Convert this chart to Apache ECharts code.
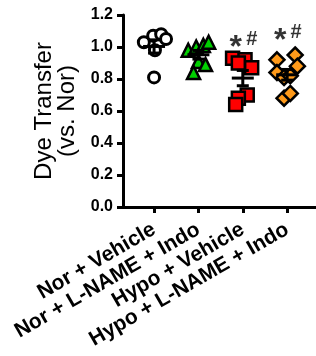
<!DOCTYPE html>
<html>
<head>
<meta charset="utf-8">
<script src="https://cdn.jsdelivr.net/npm/echarts@6/dist/echarts.min.js"></script>
<style>
  html, body { margin: 0; padding: 0; background: #fff; }
  #chart { width: 316px; height: 356px; }
</style>
</head>
<body>
<div id="chart"></div>
<script>
const categories = ['Nor + Vehicle', 'Nor + L-NAME + Indo', 'Hypo + Vehicle', 'Hypo + L-NAME + Indo']

// individual dye transfer values per group
const norVehicle = [1.03, 1.07, 1.08, 1.05, 0.98, 0.81]
const norLname = [0.98, 1.00, 1.01, 1.03, 0.91, 0.84, 0.89]
const hypoVehicle = [0.93, 0.92, 0.90, 0.87, 0.70, 0.68, 0.64]
const hypoLname = [0.92, 0.95, 0.88, 0.84, 0.81, 0.82, 0.68, 0.71]

// horizontal scatter of the points inside each group (category units)
const jitterNor = [-0.23, -0.02, 0.16, 0.27, 0.02, 0.0]
const jitterNorL = [-0.23, -0.05, 0.11, 0.23, 0.0, -0.11, 0.16]
const jitterHypo = [-0.23, 0.05, -0.1, 0.2, 0.1, -0.1, -0.16]
const jitterHypoL = [-0.23, 0.18, 0.23, -0.23, -0.07, 0.07, -0.07, 0.07]

// significance marks above the groups
const annotationGroups = [3, 4]
const annotationY = [1.05, 1.09]

const groups = [norVehicle, norLname, hypoVehicle, hypoLname]
const jitters = [jitterNor, jitterNorL, jitterHypo, jitterHypoL]

function mean(arr) {
  return arr.reduce((a, b) => a + b, 0) / arr.length
}

function sem(arr) {
  const m = mean(arr)
  const v = arr.reduce((a, b) => a + (b - m) * (b - m), 0) / (arr.length - 1)
  return Math.sqrt(v / arr.length)
}

const markers = [
  { symbol: 'circle', size: 11, color: '#ffffff' },
  { symbol: 'triangle', size: 13, color: '#00d000' },
  { symbol: 'rect', size: 13, color: '#ff0000' },
  { symbol: 'diamond', size: 15, color: '#ff9a1a' }
]

const pointSeries = groups.map((values, g) => ({
  type: 'scatter',
  symbol: markers[g].symbol,
  symbolSize: markers[g].size,
  itemStyle: {
    color: markers[g].color,
    borderColor: '#000',
    borderWidth: g === 0 ? 3 : 2.5,
    opacity: 1
  },
  z: 2,
  data: values.map((v, i) => [g + 1 + jitters[g][i], v])
}))

const statData = groups.map((values, g) => [g + 1, mean(values), sem(values)])
const annotationData = annotationGroups.map((g, i) => [g, annotationY[i]])

const font = 'Liberation Sans, Arial'

const chart = echarts.init(document.getElementById('chart'))
chart.setOption({
  animation: false,
  grid: { left: 123, right: 0, top: 15, bottom: 149 },
  xAxis: {
    type: 'value',
    min: 0.3,
    max: 4.65,
    splitLine: { show: false },
    axisLine: { lineStyle: { color: '#000', width: 3 } },
    axisTick: {
      show: true,
      length: 6,
      customValues: [1, 2, 3, 4],
      lineStyle: { color: '#000', width: 3 }
    },
    axisLabel: {
      customValues: [1, 2, 3, 4],
      rotate: 30,
      margin: 21,
      formatter: v => categories[Math.round(v) - 1],
      color: '#000',
      fontFamily: font,
      fontWeight: 'bold',
      fontSize: 21
    }
  },
  yAxis: {
    type: 'value',
    min: 0,
    max: 1.2,
    interval: 0.2,
    name: 'Dye Transfer\n(vs. Nor)',
    nameLocation: 'middle',
    nameGap: 42,
    nameTextStyle: {
      color: '#000',
      fontFamily: font,
      fontSize: 24,
      lineHeight: 23
    },
    splitLine: { show: false },
    axisLine: { show: true, lineStyle: { color: '#000', width: 3 } },
    axisTick: { show: true, length: 6, lineStyle: { color: '#000', width: 3 } },
    axisLabel: {
      margin: 10,
      formatter: v => v.toFixed(1),
      color: '#000',
      fontFamily: font,
      fontWeight: 'bold',
      fontSize: 16
    }
  },
  series: [
    ...pointSeries,
    {
      type: 'custom',
      z: 3,
      data: statData,
      renderItem: (params, api) => {
        const x = api.value(0)
        const m = api.value(1)
        const s = api.value(2)
        const c = api.coord([x, m])
        const top = api.coord([x, m + s])
        const bot = api.coord([x, m - s])
        const style = { stroke: '#000', lineWidth: 3 }
        return {
          type: 'group',
          children: [
            { type: 'line', shape: { x1: c[0] - 11, y1: c[1], x2: c[0] + 11, y2: c[1] }, style },
            { type: 'line', shape: { x1: c[0], y1: top[1], x2: c[0], y2: bot[1] }, style },
            { type: 'line', shape: { x1: c[0] - 6, y1: top[1], x2: c[0] + 6, y2: top[1] }, style },
            { type: 'line', shape: { x1: c[0] - 6, y1: bot[1], x2: c[0] + 6, y2: bot[1] }, style }
          ]
        }
      }
    },
    {
      type: 'scatter',
      symbolSize: 0,
      silent: true,
      data: annotationData,
      label: {
        show: true,
        position: 'inside',
        offset: [-7, 9],
        formatter: '*',
        fontFamily: font,
        fontWeight: 'bold',
        fontSize: 32,
        color: '#000'
      }
    },
    {
      type: 'scatter',
      symbolSize: 0,
      silent: true,
      data: annotationData,
      label: {
        show: true,
        position: 'inside',
        offset: [9, 0],
        formatter: '#',
        fontFamily: font,
        fontWeight: 'bold',
        fontSize: 20,
        color: '#000'
      }
    }
  ]
})
</script>
</body>
</html>
